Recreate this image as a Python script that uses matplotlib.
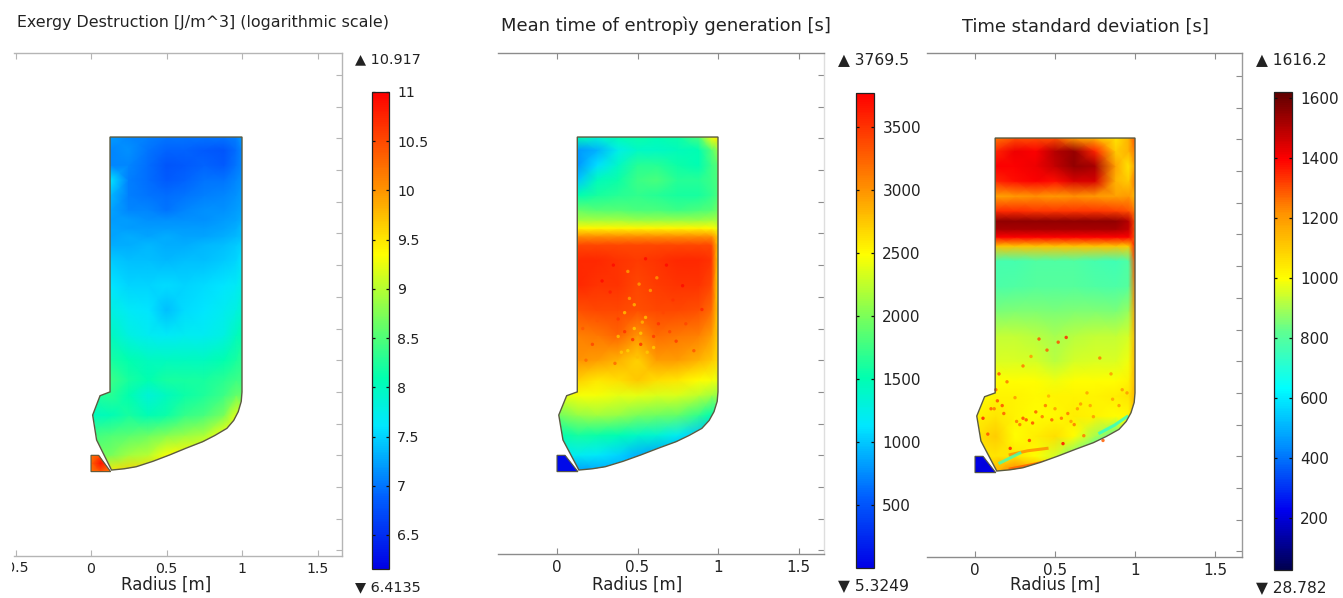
import numpy as np
import matplotlib
matplotlib.use('Agg')
import matplotlib.pyplot as plt
from matplotlib.colors import LinearSegmentedColormap, Normalize
from matplotlib.patches import Polygon
from matplotlib.transforms import Bbox

W, H = 1343, 598

titles = ['Exergy Destruction [J/m^3] (logarithmic scale)',
          'Mean time of entropìy generation [s]',
          'Time standard deviation [s]']
max_labels = ['10.917', '3769.5', '1616.2']
min_labels = ['6.4135', '5.3249', '28.782']
bar_ranges = [(6.154, 11.0), (0.0, 3770.0), (27.0, 1620.0)]
bar_ticks = [[6.5, 7, 7.5, 8, 8.5, 9, 9.5, 10, 10.5, 11],
             [500, 1000, 1500, 2000, 2500, 3000, 3500],
             [200, 400, 600, 800, 1000, 1200, 1400, 1600]]
bar_ticklabels = [['6.5', '7', '7.5', '8', '8.5', '9', '9.5', '10', '10.5', '11'],
                  ['500', '1000', '1500', '2000', '2500', '3000', '3500'],
                  ['200', '400', '600', '800', '1000', '1200', '1400', '1600']]

# outline of the reactor, (radius, height)
wall_r = [1.0, 0.126, 0.126, 0.06, 0.011, 0.037, 0.136, 0.22, 0.30, 0.41, 0.52, 0.63,
          0.74, 0.82, 0.90, 0.945, 0.975, 0.995, 1.0]
wall_z = [2.208, 2.208, 0.60, 0.576, 0.454, 0.297, 0.107, 0.115, 0.128, 0.162, 0.202, 0.245,
          0.286, 0.325, 0.37, 0.42, 0.475, 0.54, 0.60]
inlet_r = [0.0, 0.05, 0.13, 0.0]
inlet_z = [0.20, 0.20, 0.097, 0.097]

grid_r = [0.0, 0.13, 0.25, 0.38, 0.5, 0.62, 0.75, 0.88, 0.96, 1.0]
grid_z = [0.095, 0.202, 0.328, 0.454, 0.580, 0.675, 0.801, 0.959, 1.117, 1.274, 1.432,
          1.527, 1.584, 1.634, 1.685, 1.748, 1.842, 1.937, 2.032, 2.126, 2.208]

exergy = [
    [9.5, 9.5, 9.6, 9.6, 9.6, 9.5, 9.5, 9.4, 9.4, 9.4],
    [8.7, 8.7, 8.9, 9.0, 9.3, 9.4, 9.4, 9.4, 9.4, 9.4],
    [8.4, 8.5, 8.55, 8.65, 8.75, 8.85, 8.95, 9.3, 9.4, 9.4],
    [8.0, 8.05, 8.2, 8.05, 8.15, 8.35, 8.45, 8.7, 9.2, 9.3],
    [8.2, 8.3, 8.1, 7.85, 8.0, 8.15, 8.25, 8.4, 8.6, 8.6],
    [8.2, 8.4, 8.2, 8.1, 8.2, 8.2, 8.2, 8.3, 8.4, 8.4],
    [8.1, 8.2, 8.1, 8.0, 8.0, 8.0, 8.0, 8.1, 8.2, 8.3],
    [7.8, 8.0, 7.8, 7.7, 7.65, 7.7, 7.7, 7.8, 8.0, 8.1],
    [7.6, 7.8, 7.65, 7.6, 7.4, 7.55, 7.6, 7.7, 7.8, 7.9],
    [7.5, 7.6, 7.5, 7.5, 7.55, 7.5, 7.55, 7.6, 7.65, 7.75],
    [7.4, 7.45, 7.4, 7.4, 7.35, 7.4, 7.4, 7.45, 7.5, 7.6],
    [7.3, 7.3, 7.3, 7.35, 7.3, 7.3, 7.35, 7.4, 7.45, 7.5],
    [7.25, 7.25, 7.3, 7.25, 7.3, 7.25, 7.25, 7.3, 7.35, 7.4],
    [7.25, 7.25, 7.2, 7.2, 7.2, 7.2, 7.2, 7.25, 7.3, 7.4],
    [7.2, 7.2, 7.2, 7.15, 7.15, 7.15, 7.15, 7.2, 7.25, 7.3],
    [7.2, 7.25, 7.1, 7.1, 7.0, 7.1, 7.15, 7.15, 7.2, 7.25],
    [7.3, 7.35, 7.05, 7.0, 6.95, 7.0, 7.05, 7.1, 7.15, 7.2],
    [7.6, 7.6, 7.05, 6.95, 6.85, 6.9, 7.0, 7.0, 7.1, 7.15],
    [7.1, 7.1, 7.1, 6.95, 6.8, 6.85, 6.9, 6.85, 7.0, 7.1],
    [7.1, 7.1, 7.15, 7.0, 6.9, 6.9, 6.85, 6.8, 6.95, 7.1],
    [7.2, 7.2, 7.1, 7.05, 7.0, 7.0, 7.0, 7.0, 7.05, 7.2],
]
mean_time = [
    [800, 800, 850, 880, 880, 850, 850, 800, 800, 800],
    [1200, 1200, 1150, 1050, 900, 850, 820, 800, 800, 800],
    [1500, 1600, 1550, 1500, 1400, 1350, 1200, 1000, 850, 850],
    [1950, 2100, 2150, 2100, 2000, 1950, 1900, 1700, 1500, 1300],
    [2350, 2450, 2450, 2400, 2400, 2350, 2350, 2250, 2150, 2100],
    [2550, 2700, 2600, 2650, 2750, 2650, 2600, 2500, 2450, 2400],
    [2850, 3000, 2950, 2850, 2700, 2950, 2950, 2850, 2750, 2650],
    [3000, 3100, 3150, 3250, 3000, 3200, 3150, 3100, 2950, 2700],
    [3300, 3350, 3400, 3400, 3350, 3400, 3400, 3350, 3200, 2700],
    [3500, 3550, 3500, 3500, 3400, 3450, 3500, 3500, 3400, 2650],
    [3550, 3550, 3550, 3500, 3450, 3500, 3550, 3550, 3500, 2700],
    [3350, 3400, 3400, 3400, 3400, 3400, 3400, 3400, 3400, 2750],
    [2950, 3000, 3000, 3000, 3000, 3000, 3000, 3000, 3000, 2700],
    [2500, 2520, 2520, 2520, 2520, 2520, 2520, 2520, 2500, 2400],
    [2150, 2150, 2150, 2150, 2100, 2100, 2100, 2100, 2150, 2150],
    [1850, 1900, 1850, 1850, 1800, 1800, 1750, 1800, 1850, 1950],
    [1400, 1500, 1600, 1650, 1700, 1650, 1600, 1600, 1700, 1800],
    [1000, 1000, 1450, 1550, 1750, 1800, 1650, 1650, 1750, 1800],
    [800, 800, 1100, 1400, 1650, 1650, 1550, 1500, 1750, 1850],
    [700, 800, 900, 1250, 1400, 1400, 1450, 1500, 1850, 2100],
    [1500, 1500, 1350, 1500, 1550, 1500, 1550, 1800, 2500, 2600],
]
time_std = [
    [1150, 1150, 1250, 1200, 1100, 1100, 1050, 1050, 1100, 1250],
    [1050, 1050, 1050, 1000, 950, 850, 700, 650, 1200, 1300],
    [1050, 1100, 1000, 1030, 1060, 1000, 900, 820, 950, 1200],
    [1020, 1050, 1020, 1000, 1010, 1030, 1020, 1000, 1010, 1150],
    [1000, 1020, 1020, 1010, 1020, 1020, 1020, 1030, 1050, 1150],
    [980, 1000, 1000, 1000, 980, 1000, 1000, 1000, 1020, 1150],
    [930, 960, 960, 950, 920, 950, 960, 960, 980, 1150],
    [880, 930, 930, 920, 900, 920, 930, 930, 950, 1150],
    [820, 850, 860, 860, 850, 860, 860, 850, 880, 1200],
    [770, 780, 790, 800, 800, 800, 790, 780, 800, 1250],
    [760, 770, 770, 790, 790, 790, 770, 760, 790, 1300],
    [1100, 1120, 1120, 1120, 1120, 1120, 1120, 1120, 1100, 1350],
    [1400, 1400, 1400, 1400, 1400, 1400, 1400, 1400, 1400, 1300],
    [1520, 1520, 1520, 1520, 1520, 1520, 1520, 1520, 1480, 1300],
    [1550, 1550, 1550, 1550, 1550, 1550, 1550, 1550, 1500, 1300],
    [1320, 1340, 1340, 1330, 1330, 1330, 1330, 1320, 1300, 1250],
    [1180, 1180, 1200, 1220, 1200, 1220, 1200, 1180, 1200, 1150],
    [1350, 1350, 1380, 1400, 1380, 1450, 1450, 1150, 1100, 1250],
    [1400, 1400, 1400, 1420, 1480, 1550, 1520, 1180, 1050, 1200],
    [1350, 1350, 1420, 1400, 1500, 1540, 1350, 1100, 1150, 1250],
    [1250, 1250, 1300, 1300, 1300, 1200, 1150, 1050, 1150, 1300],
]
fields = [exergy, mean_time, time_std]

inlet_grid_r = [0.0, 0.065, 0.13]
inlet_grid_z = [0.097, 0.15, 0.20]
inlet_fields = [[[10.2, 10.4, 10.2], [10.3, 10.9, 10.4], [10.2, 10.5, 10.3]],
                [[60, 60, 60], [60, 60, 60], [60, 60, 60]],
                [[180, 220, 200], [230, 200, 220], [190, 230, 200]]]

# small hot spots
spots2_r = [0.42, 0.47, 0.52, 0.60, 0.63, 0.55, 0.38, 0.30, 0.22, 0.70, 0.74, 0.80, 0.85,
            0.33, 0.45, 0.51, 0.58, 0.66, 0.40, 0.25, 0.18, 0.50, 0.56, 0.36, 0.44, 0.72, 0.62, 0.48,
            0.28, 0.35, 0.55, 0.68, 0.78, 0.90, 0.16, 0.42, 0.48, 0.53, 0.60, 0.38, 0.44, 0.52]
spots2_z = [0.98, 0.93, 0.90, 0.95, 1.03, 1.07, 1.06, 1.12, 0.90, 0.98, 0.92, 1.03, 0.86,
            1.23, 1.19, 1.28, 1.24, 1.10, 0.85, 1.05, 0.80, 0.82, 0.85, 0.78, 1.36, 1.18, 1.32, 1.00,
            1.30, 1.40, 1.44, 1.40, 1.27, 1.12, 1.00, 1.10, 1.15, 1.04, 0.88, 0.95, 0.86, 0.97]
spots2_v = [3500, 3500, 3500, 3450, 3500, 2800, 3450, 3400, 3400, 3400, 3450, 3400, 3300,
            3600, 2950, 2950, 2950, 3400, 2750, 3300, 3200, 2800, 2750, 3200, 2950, 3500, 3000, 2750,
            3700, 3700, 3700, 3700, 3700, 3550, 3300, 2800, 2850, 2850, 2750, 2800, 2700, 2750]
spots3_r = [0.40, 0.52, 0.57, 0.45, 0.35, 0.30, 0.15, 0.20, 0.13, 0.25, 0.44, 0.50, 0.58, 0.66,
            0.78, 0.85, 0.92, 0.70, 0.10, 0.05, 0.08, 0.18, 0.30, 0.38, 0.62, 0.74, 0.22, 0.34, 0.55, 0.68, 0.80, 0.46,
            0.26, 0.32, 0.42, 0.28, 0.36, 0.48, 0.54, 0.14, 0.12, 0.17, 0.60, 0.64, 0.72, 0.86, 0.90, 0.95]
spots3_z = [0.94, 0.92, 0.95, 0.87, 0.83, 0.77, 0.72, 0.67, 0.62, 0.57, 0.52, 0.50, 0.47, 0.53,
            0.82, 0.72, 0.62, 0.60, 0.50, 0.44, 0.34, 0.47, 0.44, 0.48, 0.40, 0.45, 0.25, 0.30, 0.28, 0.33, 0.30, 0.58,
            0.42, 0.43, 0.45, 0.40, 0.41, 0.43, 0.44, 0.55, 0.50, 0.52, 0.42, 0.50, 0.52, 0.56, 0.52, 0.60]
spots3_v = [1300, 1300, 1350, 1280, 1200, 1250, 1300, 1250, 1280, 1200, 1250, 1200, 1250, 1200,
            1250, 1200, 1200, 1180, 1280, 1350, 1300, 1280, 1300, 1280, 1250, 1200, 1350, 1320, 1380, 1250, 1280, 1150,
            1250, 1300, 1250, 1250, 1300, 1280, 1250, 1300, 1250, 1300, 1200, 1200, 1180, 1180, 1200, 1200]
spots = [(spots2_r, spots2_z, spots2_v), (spots3_r, spots3_z, spots3_v)]

# streaks in the lower part of the right panel: (radius, height, value)
streaks3 = [([0.22, 0.33, 0.45], [0.21, 0.235, 0.25], 1230),
            ([0.22, 0.37, 0.53], [0.12, 0.15, 0.187], 1280),
            ([0.78, 0.87, 0.95], [0.347, 0.395, 0.45], 720),
            ([0.156, 0.22, 0.28], [0.158, 0.19, 0.22], 760)]

rainbow = LinearSegmentedColormap.from_list('rb', [
    (0.0, '#0000e6'), (0.15, '#0060ff'), (0.30, '#00e8ff'), (0.40, '#00ffb0'), (0.52, '#70ff60'),
    (0.66, '#ffff00'), (0.80, '#ff9000'), (1.0, '#ff0000')])
rainbow_dark = LinearSegmentedColormap.from_list('rbd', [
    (0.0, '#000050'), (0.125, '#0000f0'), (0.26, '#0090ff'), (0.38, '#00ffff'), (0.50, '#60ff90'),
    (0.61, '#ffff00'), (0.75, '#ff9000'), (0.86, '#ff0000'), (1.0, '#600000')])
cmaps = [rainbow, rainbow, rainbow_dark]

# layout, all in pixels of the picture
panels = [
    dict(box=(14, 53, 342, 556), x0=91, sx=151, bar=(372, 92, 389, 569), fs=10.2,
         title=(17, 22), title_fs=11.4, up=(355, 59), down=(355, 587), spine='#b5b5b5', right='#b5b5b5', z0=487),
    dict(box=(498, 53, 824, 554), x0=557, sx=161, bar=(856, 93, 874, 568), fs=11,
         title=(501, 26), title_fs=12.9, up=(838, 60), down=(838, 586), spine='#8c8c8c', right='#dedede', z0=487),
    dict(box=(927, 53, 1242, 557), x0=975, sx=160, bar=(1274, 92, 1292, 570), fs=11,
         title=(962, 27), title_fs=12.9, up=(1256, 60), down=(1256, 588), spine='#8c8c8c', right='#9a9a9a', z0=488),
]
SZ = 158.5


def px_axes(fig, l, t, r, b):
    return fig.add_axes([l / W, 1 - b / H, (r - l) / W, (b - t) / H])


fig = plt.figure(figsize=(W / 100, H / 100), dpi=100)
plt.rcParams['font.family'] = 'DejaVu Sans'
TXT = '#222222'

for i, p in enumerate(panels):
    l, t, r, b = p['box']
    ax = px_axes(fig, l, t, r, b)

    norm = Normalize(*bar_ranges[i])
    mesh = ax.pcolormesh(grid_r, grid_z, np.array(fields[i], dtype=float), shading='gouraud',
                         cmap=cmaps[i], norm=norm)
    wall = Polygon(np.column_stack([wall_r, wall_z]), closed=True, fc='none', ec='#5a5a40', lw=1.0, zorder=4)
    ax.add_patch(wall)
    mesh.set_clip_path(wall)

    mesh2 = ax.pcolormesh(inlet_grid_r, inlet_grid_z, np.array(inlet_fields[i], dtype=float),
                          shading='gouraud', cmap=cmaps[i], norm=norm)
    inlet = Polygon(np.column_stack([inlet_r, inlet_z]), closed=True, fc='none', ec='#5a5a40', lw=0.8, zorder=4)
    ax.add_patch(inlet)
    mesh2.set_clip_path(inlet)

    if i > 0:
        sr, sz, sv = spots[i - 1]
        ax.scatter(sr, sz, c=sv, s=6, cmap=cmaps[i], norm=norm, lw=0, alpha=0.85, zorder=3)
    if i == 2:
        for sr, sz, sv in streaks3:
            line, = ax.plot(sr, sz, color=cmaps[i](norm(sv)), lw=2.2, alpha=0.8, zorder=3)
            line.set_clip_path(wall)

    for side in ['top', 'bottom', 'right']:
        ax.spines[side].set_color(p['spine'])
        ax.spines[side].set_linewidth(1.0)
    ax.spines['right'].set_color(p['right'])
    ax.spines['left'].set_visible(False)

    xlim = ((l - p['x0']) / p['sx'], (r - p['x0']) / p['sx'])
    ylim = ((p['z0'] - b) / SZ, (p['z0'] - t) / SZ)
    xt = [v for v in [-0.5, 0, 0.5, 1, 1.5] if xlim[0] <= v <= xlim[1]]
    ax.set_xticks(xt)
    ax.set_xticklabels(['' if v == -0.5 else ('%g' % v) for v in xt], fontsize=p['fs'], color=TXT)
    yt = [k * 0.2 for k in range(-2, 14) if ylim[0] < k * 0.2 < ylim[1]]
    ax.set_yticks(yt)
    ax.set_yticklabels([])
    ax.set_xlim(xlim)
    ax.set_ylim(ylim)
    ax.tick_params(axis='both', direction='in', length=4, width=0.8, color=p['spine'],
                   top=True, bottom=True, left=False, right=True, pad=4)
    ax.set_facecolor('none')

    if i == 0:
        # the picture is cropped through this label
        cut = ax.text(-0.5, (p['z0'] - b - 12) / SZ, '-0.5', ha='center', va='center', fontsize=p['fs'],
                      color=TXT, clip_on=True)
        cut.set_clip_box(Bbox([[12, 0], [200, H]]))

    fig.text((p['x0'] + 0.5 * p['sx']) / W, 1 - 585 / H, 'Radius [m]', ha='center', va='center',
             fontsize=12, color=TXT)
    fig.text(p['title'][0] / W, 1 - p['title'][1] / H, titles[i], ha='left', va='center',
             fontsize=p['title_fs'], color=TXT)

    bl, bt, br, bb = p['bar']
    cax = px_axes(fig, bl, bt, br, bb)
    cb = fig.colorbar(mesh, cax=cax)
    cb.set_ticks(bar_ticks[i])
    cb.set_ticklabels(bar_ticklabels[i])
    cax.tick_params(axis='y', direction='in', length=2.5, width=0.9, color='#111111', left=True, right=True,
                    labelsize=p['fs'], labelcolor=TXT, pad=6)
    cb.outline.set_edgecolor('#222222')
    cb.outline.set_linewidth(0.9)

    fig.text(p['up'][0] / W, 1 - p['up'][1] / H, '▲ ' + max_labels[i], ha='left', va='center',
             fontsize=p['fs'] + 0.2, color=TXT)
    fig.text(p['down'][0] / W, 1 - p['down'][1] / H, '▼ ' + min_labels[i], ha='left', va='center',
             fontsize=p['fs'] + 0.2, color=TXT)

fig.savefig('out.png', dpi=100)
